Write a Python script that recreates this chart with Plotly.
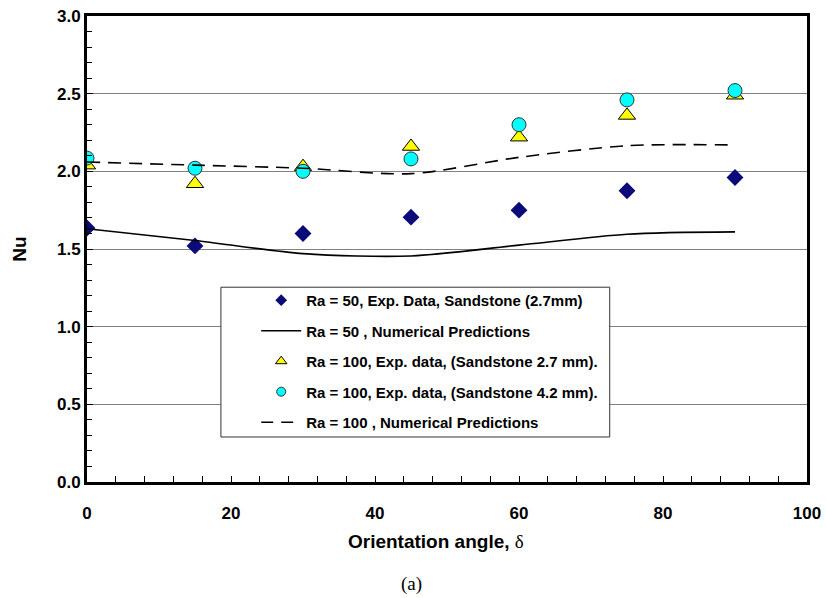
import plotly.graph_objects as go

angles = [0, 15, 30, 45, 60, 75, 90]
nu_ra50_exp = [1.635, 1.52, 1.60, 1.705, 1.75, 1.875, 1.96]
nu_ra50_num = [1.63, 1.555, 1.47, 1.455, 1.525, 1.595, 1.61]
nu_ra100_exp27 = [2.04, 1.92, 2.03, 2.16, 2.22, 2.36, 2.49]
nu_ra100_exp42 = [2.085, 2.02, 2.00, 2.08, 2.30, 2.46, 2.52]
nu_ra100_num = [2.06, 2.04, 2.02, 1.985, 2.09, 2.165, 2.17]

names = [
    "Ra = 50, Exp. Data, Sandstone (2.7mm)",
    "Ra = 50 , Numerical Predictions",
    "Ra = 100, Exp. data, (Sandstone 2.7 mm).",
    "Ra = 100, Exp. data, (Sandstone 4.2 mm).",
    "Ra = 100 , Numerical Predictions",
]

diamond = dict(symbol="diamond", color="#0a0a78", line=dict(width=0))
tri = dict(symbol="triangle-up", color="#ffff00", line=dict(width=1, color="black"))
circ = dict(symbol="circle", color="#00ffff", line=dict(width=1, color="#333333"))
solid = dict(color="black", width=1.6, shape="spline", smoothing=0.8)
dashed = dict(color="black", width=1.6, dash="13px,8px", shape="spline", smoothing=0.8)

fig = go.Figure()
# data traces
fig.add_trace(go.Scatter(x=angles, y=nu_ra50_exp, mode="markers", showlegend=False, marker=dict(size=13, **diamond)))
fig.add_trace(go.Scatter(x=angles, y=nu_ra50_num, mode="lines", showlegend=False, line=solid))
fig.add_trace(go.Scatter(x=angles, y=nu_ra100_exp27, mode="markers", showlegend=False, marker=dict(size=15, **tri)))
fig.add_trace(go.Scatter(x=angles, y=nu_ra100_exp42, mode="markers", showlegend=False, marker=dict(size=14, **circ)))
fig.add_trace(go.Scatter(x=angles, y=nu_ra100_num, mode="lines", showlegend=False, line=dashed))

# legend entries (smaller symbols as in the reference)
fig.add_trace(go.Scatter(x=[None], y=[None], mode="markers", name=names[0], legendgroup="a", marker=dict(size=9, **diamond)))
fig.add_trace(go.Scatter(x=[None], y=[None], mode="lines", name=names[1], legendgroup="b", line=dict(color="black", width=1.6)))
fig.add_trace(go.Scatter(x=[None], y=[None], mode="markers", name=names[2], legendgroup="c", marker=dict(size=10, **tri)))
fig.add_trace(go.Scatter(x=[None], y=[None], mode="markers", name=names[3], legendgroup="d", marker=dict(size=9, **circ)))
fig.add_trace(go.Scatter(x=[None], y=[None], mode="lines", name=names[4], legendgroup="e", line=dict(color="black", width=1.6, dash="12px,8px")))

fnt = "Arial, Liberation Sans, sans-serif"
fig.update_layout(
    width=826, height=598,
    margin=dict(l=87, r=19, t=16, b=116),
    plot_bgcolor="white", paper_bgcolor="white",
    font=dict(family=fnt, color="black"),
    showlegend=True,
    legend=dict(x=0.235, y=0.425, xanchor="left", yanchor="top",
                bgcolor="rgba(0,0,0,0)", borderwidth=0,
                font=dict(family=fnt, size=15, weight="bold"),
                traceorder="grouped", tracegroupgap=8, itemwidth=40),
    shapes=[dict(type="rect", xref="paper", yref="paper", x0=0.186, x1=0.726, y0=0.0966, y1=0.418,
                 fillcolor="white", line=dict(color="#333333", width=1), layer="above")],
    xaxis=dict(range=[0, 100], tickvals=[0, 20, 40, 60, 80, 100], showgrid=False, automargin=False,
               showline=True, linecolor="black", linewidth=3, mirror=True,
               ticks="inside", ticklen=6, tickwidth=1, tickcolor="black",
               minor=dict(dtick=4, ticks="inside", ticklen=6, tickwidth=1, tickcolor="black"),
               tickfont=dict(size=17, weight="bold"), ticklabelstandoff=14, zeroline=False),
    yaxis=dict(range=[0, 3], tickvals=[0, 0.5, 1.0, 1.5, 2.0, 2.5, 3.0], tickformat=".1f", automargin=False,
               showgrid=True, gridcolor="#808080", gridwidth=1,
               showline=True, linecolor="black", linewidth=3, mirror=True,
               ticks="inside", ticklen=6, tickwidth=1, tickcolor="black",
               minor=dict(dtick=0.1, ticks="inside", ticklen=5, tickwidth=1, tickcolor="black", showgrid=False),
               tickfont=dict(size=17, weight="bold"), zeroline=False,
               title=dict(text="Nu", font=dict(size=19, weight="bold"), standoff=26)),
    annotations=[
        dict(text="<b>Orientation angle, </b><span style='font-family:Liberation Serif, Times New Roman, serif'>δ</span>",
             xref="paper", yref="paper", x=0.485, y=-0.127, xanchor="center", yanchor="middle",
             showarrow=False, font=dict(family=fnt, size=19)),
        dict(text="(a)", xref="paper", yref="paper", x=0.451, y=-0.218,
             xanchor="center", yanchor="middle", showarrow=False,
             font=dict(family="Liberation Serif, Times New Roman, serif", size=19)),
    ],
)

fig.write_html("out.html")
